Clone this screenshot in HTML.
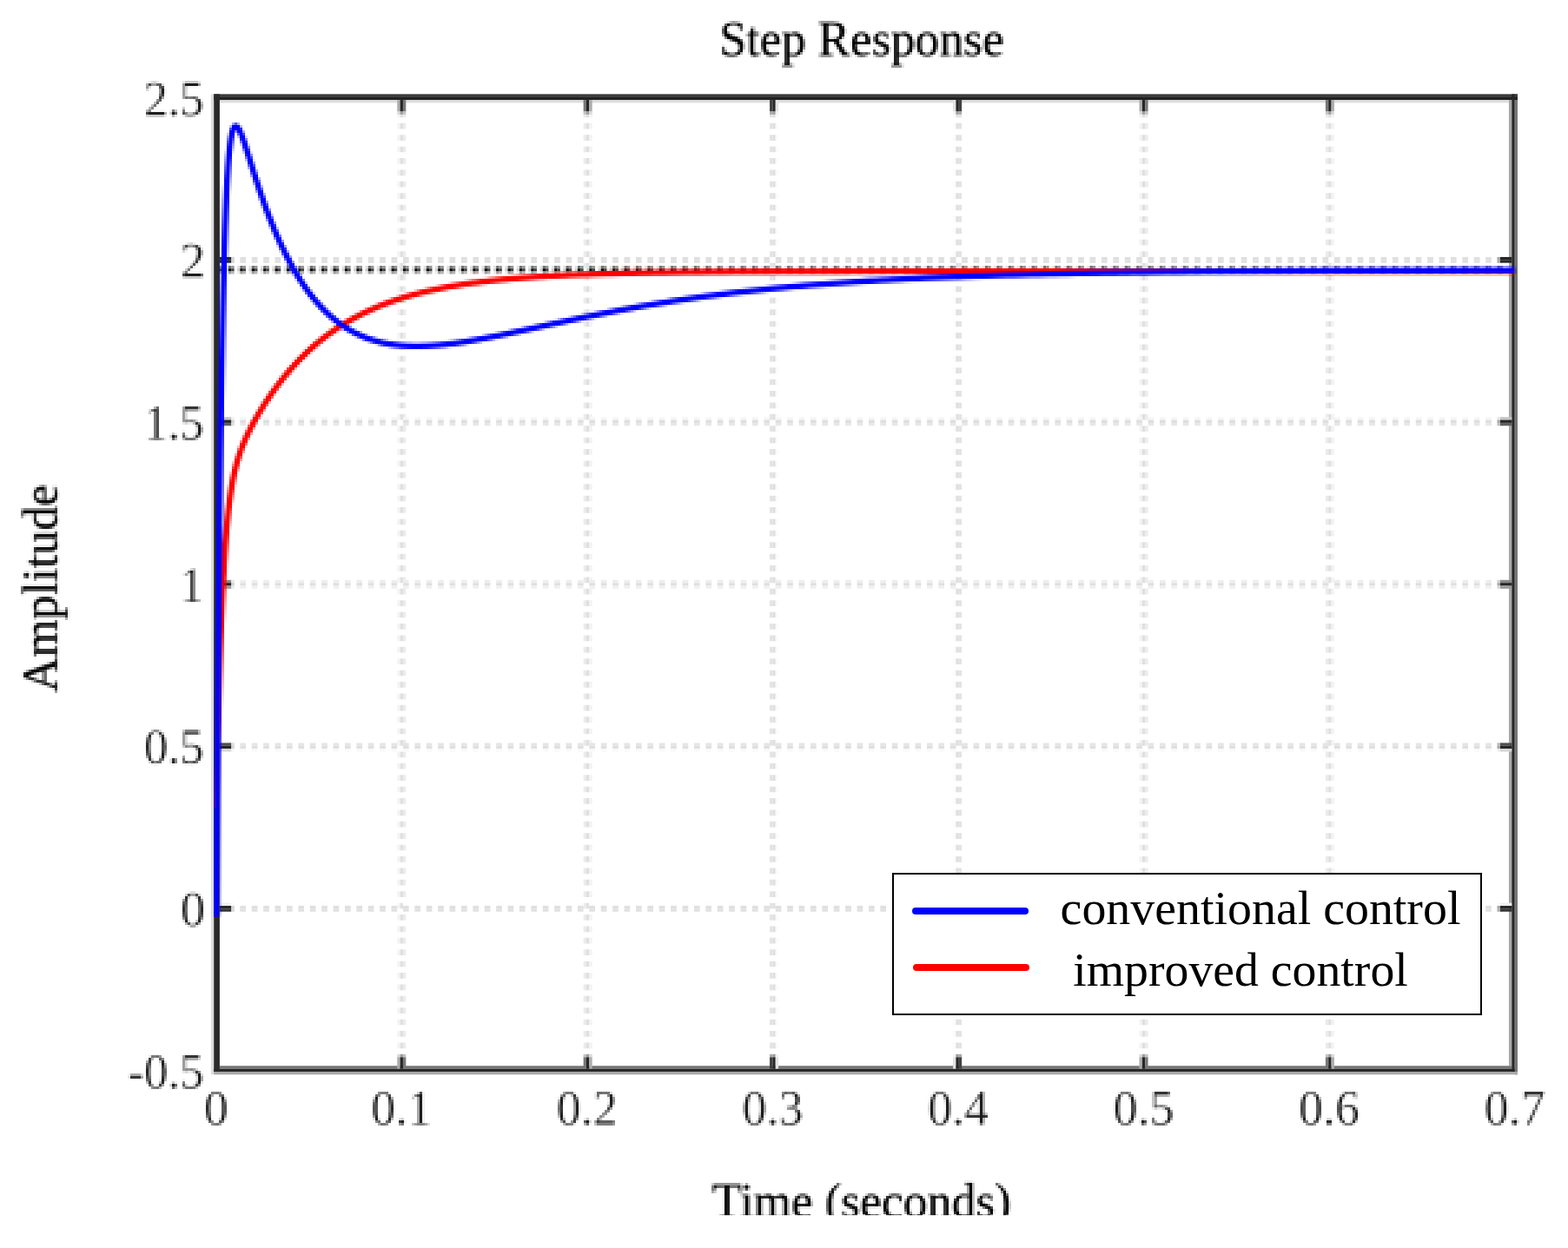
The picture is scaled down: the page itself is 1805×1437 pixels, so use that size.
<!DOCTYPE html>
<html lang="en"><head><meta charset="utf-8"><title>Step Response</title>
<style>html,body{margin:0;padding:0;background:#ffffff;}body{width:1805px;height:1437px;overflow:hidden;}svg{display:block;}text{font-family:"Liberation Serif",serif;}</style>
</head><body>
<svg width="1805" height="1437" viewBox="0 0 1805 1437">
<defs><filter id="soft" filterUnits="userSpaceOnUse" x="0" y="0" width="1805" height="1437" color-interpolation-filters="sRGB"><feGaussianBlur in="SourceGraphic" stdDeviation="0.4" result="b0"/><feConvolveMatrix in="b0" order="3" kernelMatrix="1 1 1 1 1 1 1 1 1" divisor="9" edgeMode="none" preserveAlpha="false" result="b"/><feFlood x="1" y="1" width="1" height="1" flood-color="#000" flood-opacity="1"/><feComposite width="3" height="3"/><feTile result="dots"/><feComposite in="b" in2="dots" operator="in"/><feMorphology operator="dilate" radius="1"/><feGaussianBlur stdDeviation="0.5"/></filter>
<filter id="crisp" filterUnits="userSpaceOnUse" x="0" y="0" width="1805" height="1437"><feGaussianBlur stdDeviation="0.45"/></filter>
<clipPath id="plot"><rect x="246.2" y="100" width="1497.7" height="1140"/></clipPath></defs>
<rect width="1805" height="1437" fill="#ffffff"/>
<g filter="url(#crisp)" fill="none">
<line x1="458.93" y1="115.05" x2="458.93" y2="1227.25" stroke="#f3f3f3" stroke-width="3.35" stroke-dasharray="6.70 6.70"/>
<line x1="462.28" y1="115.05" x2="462.28" y2="1227.25" stroke="#dfdfdf" stroke-width="3.35" stroke-dasharray="6.70 6.70"/>
<line x1="465.62" y1="115.05" x2="465.62" y2="1227.25" stroke="#ebebeb" stroke-width="3.35" stroke-dasharray="6.70 6.70"/>
<line x1="673.32" y1="115.05" x2="673.32" y2="1227.25" stroke="#ebebeb" stroke-width="3.35" stroke-dasharray="6.70 6.70"/>
<line x1="676.67" y1="115.05" x2="676.67" y2="1227.25" stroke="#dfdfdf" stroke-width="3.35" stroke-dasharray="6.70 6.70"/>
<line x1="680.02" y1="115.05" x2="680.02" y2="1227.25" stroke="#f3f3f3" stroke-width="3.35" stroke-dasharray="6.70 6.70"/>
<line x1="887.72" y1="115.05" x2="887.72" y2="1227.25" stroke="#e3e3e3" stroke-width="3.35" stroke-dasharray="6.70 6.70"/>
<line x1="891.08" y1="115.05" x2="891.08" y2="1227.25" stroke="#dfdfdf" stroke-width="3.35" stroke-dasharray="6.70 6.70"/>
<line x1="894.42" y1="115.05" x2="894.42" y2="1227.25" stroke="#fbfbfb" stroke-width="3.35" stroke-dasharray="6.70 6.70"/>
<line x1="1098.77" y1="115.05" x2="1098.77" y2="1227.25" stroke="#fbfbfb" stroke-width="3.35" stroke-dasharray="6.70 6.70"/>
<line x1="1102.12" y1="115.05" x2="1102.12" y2="1227.25" stroke="#dfdfdf" stroke-width="3.35" stroke-dasharray="6.70 6.70"/>
<line x1="1105.47" y1="115.05" x2="1105.47" y2="1227.25" stroke="#e3e3e3" stroke-width="3.35" stroke-dasharray="6.70 6.70"/>
<line x1="1313.17" y1="115.05" x2="1313.17" y2="1227.25" stroke="#f3f3f3" stroke-width="3.35" stroke-dasharray="6.70 6.70"/>
<line x1="1316.53" y1="115.05" x2="1316.53" y2="1227.25" stroke="#dfdfdf" stroke-width="3.35" stroke-dasharray="6.70 6.70"/>
<line x1="1319.88" y1="115.05" x2="1319.88" y2="1227.25" stroke="#ebebeb" stroke-width="3.35" stroke-dasharray="6.70 6.70"/>
<line x1="1527.58" y1="115.05" x2="1527.58" y2="1227.25" stroke="#ebebeb" stroke-width="3.35" stroke-dasharray="6.70 6.70"/>
<line x1="1530.92" y1="115.05" x2="1530.92" y2="1227.25" stroke="#dfdfdf" stroke-width="3.35" stroke-dasharray="6.70 6.70"/>
<line x1="1534.28" y1="115.05" x2="1534.28" y2="1227.25" stroke="#f3f3f3" stroke-width="3.35" stroke-dasharray="6.70 6.70"/>
<line x1="249.55" y1="297.62" x2="1740.30" y2="297.62" stroke="#dfdfdf" stroke-width="3.35" stroke-dasharray="6.70 6.70"/>
<line x1="249.55" y1="300.98" x2="1740.30" y2="300.98" stroke="#dfdfdf" stroke-width="3.35" stroke-dasharray="6.70 6.70"/>
<line x1="249.55" y1="481.88" x2="1740.30" y2="481.88" stroke="#f6f6f6" stroke-width="3.35" stroke-dasharray="6.70 6.70"/>
<line x1="249.55" y1="485.23" x2="1740.30" y2="485.23" stroke="#dfdfdf" stroke-width="3.35" stroke-dasharray="6.70 6.70"/>
<line x1="249.55" y1="488.57" x2="1740.30" y2="488.57" stroke="#e8e8e8" stroke-width="3.35" stroke-dasharray="6.70 6.70"/>
<line x1="249.55" y1="669.48" x2="1740.30" y2="669.48" stroke="#eeeeee" stroke-width="3.35" stroke-dasharray="6.70 6.70"/>
<line x1="249.55" y1="672.83" x2="1740.30" y2="672.83" stroke="#dfdfdf" stroke-width="3.35" stroke-dasharray="6.70 6.70"/>
<line x1="249.55" y1="676.18" x2="1740.30" y2="676.18" stroke="#f0f0f0" stroke-width="3.35" stroke-dasharray="6.70 6.70"/>
<line x1="249.55" y1="857.08" x2="1740.30" y2="857.08" stroke="#e5e5e5" stroke-width="3.35" stroke-dasharray="6.70 6.70"/>
<line x1="249.55" y1="860.43" x2="1740.30" y2="860.43" stroke="#dfdfdf" stroke-width="3.35" stroke-dasharray="6.70 6.70"/>
<line x1="249.55" y1="863.77" x2="1740.30" y2="863.77" stroke="#f9f9f9" stroke-width="3.35" stroke-dasharray="6.70 6.70"/>
<line x1="249.55" y1="1041.33" x2="1740.30" y2="1041.33" stroke="#fdfdfd" stroke-width="3.35" stroke-dasharray="6.70 6.70"/>
<line x1="249.55" y1="1044.67" x2="1740.30" y2="1044.67" stroke="#dfdfdf" stroke-width="3.35" stroke-dasharray="6.70 6.70"/>
<line x1="249.55" y1="1048.02" x2="1740.30" y2="1048.02" stroke="#e1e1e1" stroke-width="3.35" stroke-dasharray="6.70 6.70"/>
<line x1="246.20" y1="307.6" x2="1740.30" y2="307.6" stroke="#e3e3e3" stroke-width="3.2" stroke-dasharray="3.35 10.05"/>
<line x1="249.55" y1="307.6" x2="1740.30" y2="307.6" stroke="#737373" stroke-width="3.2" stroke-dasharray="3.35 10.05"/>
<line x1="252.90" y1="307.6" x2="1740.30" y2="307.6" stroke="#969696" stroke-width="3.2" stroke-dasharray="3.35 10.05"/>
<line x1="246.20" y1="310.8" x2="1740.30" y2="310.8" stroke="#cccccc" stroke-width="3.2" stroke-dasharray="3.35 10.05"/>
<line x1="249.55" y1="310.8" x2="1740.30" y2="310.8" stroke="#000000" stroke-width="3.2" stroke-dasharray="3.35 10.05"/>
<line x1="252.90" y1="310.8" x2="1740.30" y2="310.8" stroke="#404040" stroke-width="3.2" stroke-dasharray="3.35 10.05"/>
<line x1="246.20" y1="313.9" x2="1740.30" y2="313.9" stroke="#ececec" stroke-width="3.0" stroke-dasharray="3.35 10.05"/>
<line x1="249.55" y1="313.9" x2="1740.30" y2="313.9" stroke="#9e9e9e" stroke-width="3.0" stroke-dasharray="3.35 10.05"/>
<line x1="252.90" y1="313.9" x2="1740.30" y2="313.9" stroke="#b6b6b6" stroke-width="3.0" stroke-dasharray="3.35 10.05"/>
</g>
<g filter="url(#crisp)">
<rect x="242.85" y="108.35" width="3.35" height="1128.95" fill="#dcdcdc"/>
<rect x="252.90" y="115.05" width="1484.05" height="3.35" fill="#dedede"/>
<rect x="1736.95" y="115.05" width="3.35" height="1112.20" fill="#a8a8a8"/>
<rect x="1743.65" y="108.35" width="3.35" height="1128.95" fill="#767676"/>
<rect x="252.90" y="1227.25" width="1487.40" height="3.35" fill="#767676"/>
<rect x="246.20" y="1233.95" width="1500.80" height="3.35" fill="#a8a8a8"/>
<rect x="246.20" y="108.35" width="1500.80" height="3.5500000000000003" fill="#3a3a3a"/>
<rect x="246.20" y="111.70" width="1500.80" height="3.35" fill="#232323"/>
<rect x="246.20" y="1230.60" width="1497.45" height="3.35" fill="#262626"/>
<rect x="1740.30" y="108.35" width="3.35" height="1125.60" fill="#262626"/>
<rect x="246.20" y="108.35" width="6.70" height="1125.60" fill="#2b2b2b"/>
<rect x="457.25" y="115.05" width="3.35" height="13.40" fill="#adadad"/>
<rect x="457.25" y="128.45" width="3.35" height="3.35" fill="#dadada"/>
<rect x="457.25" y="1217.20" width="3.35" height="13.40" fill="#adadad"/>
<rect x="457.25" y="1213.85" width="3.35" height="3.35" fill="#dadada"/>
<rect x="460.60" y="115.05" width="3.35" height="13.40" fill="#262626"/>
<rect x="460.60" y="128.45" width="3.35" height="3.35" fill="#9d9d9d"/>
<rect x="460.60" y="1217.20" width="3.35" height="13.40" fill="#262626"/>
<rect x="460.60" y="1213.85" width="3.35" height="3.35" fill="#9d9d9d"/>
<rect x="463.95" y="115.05" width="3.35" height="13.40" fill="#787878"/>
<rect x="463.95" y="128.45" width="3.35" height="3.35" fill="#c2c2c2"/>
<rect x="463.95" y="1217.20" width="3.35" height="13.40" fill="#787878"/>
<rect x="463.95" y="1213.85" width="3.35" height="3.35" fill="#c2c2c2"/>
<rect x="671.65" y="115.05" width="3.35" height="13.40" fill="#777777"/>
<rect x="671.65" y="128.45" width="3.35" height="3.35" fill="#c2c2c2"/>
<rect x="671.65" y="1217.20" width="3.35" height="13.40" fill="#777777"/>
<rect x="671.65" y="1213.85" width="3.35" height="3.35" fill="#c2c2c2"/>
<rect x="675.00" y="115.05" width="3.35" height="13.40" fill="#262626"/>
<rect x="675.00" y="128.45" width="3.35" height="3.35" fill="#9d9d9d"/>
<rect x="675.00" y="1217.20" width="3.35" height="13.40" fill="#262626"/>
<rect x="675.00" y="1213.85" width="3.35" height="3.35" fill="#9d9d9d"/>
<rect x="678.35" y="115.05" width="3.35" height="13.40" fill="#aeaeae"/>
<rect x="678.35" y="128.45" width="3.35" height="3.35" fill="#dbdbdb"/>
<rect x="678.35" y="1217.20" width="3.35" height="13.40" fill="#aeaeae"/>
<rect x="678.35" y="1213.85" width="3.35" height="3.35" fill="#dbdbdb"/>
<rect x="886.05" y="115.05" width="3.35" height="13.40" fill="#414141"/>
<rect x="886.05" y="128.45" width="3.35" height="3.35" fill="#a9a9a9"/>
<rect x="886.05" y="1217.20" width="3.35" height="13.40" fill="#414141"/>
<rect x="886.05" y="1213.85" width="3.35" height="3.35" fill="#a9a9a9"/>
<rect x="889.40" y="115.05" width="3.35" height="13.40" fill="#262626"/>
<rect x="889.40" y="128.45" width="3.35" height="3.35" fill="#9d9d9d"/>
<rect x="889.40" y="1217.20" width="3.35" height="13.40" fill="#262626"/>
<rect x="889.40" y="1213.85" width="3.35" height="3.35" fill="#9d9d9d"/>
<rect x="892.75" y="115.05" width="3.35" height="13.40" fill="#e4e4e4"/>
<rect x="892.75" y="128.45" width="3.35" height="3.35" fill="#f3f3f3"/>
<rect x="892.75" y="1217.20" width="3.35" height="13.40" fill="#e4e4e4"/>
<rect x="892.75" y="1213.85" width="3.35" height="3.35" fill="#f3f3f3"/>
<rect x="1097.10" y="115.05" width="3.35" height="13.40" fill="#e3e3e3"/>
<rect x="1097.10" y="128.45" width="3.35" height="3.35" fill="#f3f3f3"/>
<rect x="1097.10" y="1217.20" width="3.35" height="13.40" fill="#e3e3e3"/>
<rect x="1097.10" y="1213.85" width="3.35" height="3.35" fill="#f3f3f3"/>
<rect x="1100.45" y="115.05" width="3.35" height="13.40" fill="#262626"/>
<rect x="1100.45" y="128.45" width="3.35" height="3.35" fill="#9d9d9d"/>
<rect x="1100.45" y="1217.20" width="3.35" height="13.40" fill="#262626"/>
<rect x="1100.45" y="1213.85" width="3.35" height="3.35" fill="#9d9d9d"/>
<rect x="1103.80" y="115.05" width="3.35" height="13.40" fill="#424242"/>
<rect x="1103.80" y="128.45" width="3.35" height="3.35" fill="#aaaaaa"/>
<rect x="1103.80" y="1217.20" width="3.35" height="13.40" fill="#424242"/>
<rect x="1103.80" y="1213.85" width="3.35" height="3.35" fill="#aaaaaa"/>
<rect x="1311.50" y="115.05" width="3.35" height="13.40" fill="#adadad"/>
<rect x="1311.50" y="128.45" width="3.35" height="3.35" fill="#dadada"/>
<rect x="1311.50" y="1217.20" width="3.35" height="13.40" fill="#adadad"/>
<rect x="1311.50" y="1213.85" width="3.35" height="3.35" fill="#dadada"/>
<rect x="1314.85" y="115.05" width="3.35" height="13.40" fill="#262626"/>
<rect x="1314.85" y="128.45" width="3.35" height="3.35" fill="#9d9d9d"/>
<rect x="1314.85" y="1217.20" width="3.35" height="13.40" fill="#262626"/>
<rect x="1314.85" y="1213.85" width="3.35" height="3.35" fill="#9d9d9d"/>
<rect x="1318.20" y="115.05" width="3.35" height="13.40" fill="#787878"/>
<rect x="1318.20" y="128.45" width="3.35" height="3.35" fill="#c2c2c2"/>
<rect x="1318.20" y="1217.20" width="3.35" height="13.40" fill="#787878"/>
<rect x="1318.20" y="1213.85" width="3.35" height="3.35" fill="#c2c2c2"/>
<rect x="1525.90" y="115.05" width="3.35" height="13.40" fill="#777777"/>
<rect x="1525.90" y="128.45" width="3.35" height="3.35" fill="#c2c2c2"/>
<rect x="1525.90" y="1217.20" width="3.35" height="13.40" fill="#777777"/>
<rect x="1525.90" y="1213.85" width="3.35" height="3.35" fill="#c2c2c2"/>
<rect x="1529.25" y="115.05" width="3.35" height="13.40" fill="#262626"/>
<rect x="1529.25" y="128.45" width="3.35" height="3.35" fill="#9d9d9d"/>
<rect x="1529.25" y="1217.20" width="3.35" height="13.40" fill="#262626"/>
<rect x="1529.25" y="1213.85" width="3.35" height="3.35" fill="#9d9d9d"/>
<rect x="1532.60" y="115.05" width="3.35" height="13.40" fill="#aeaeae"/>
<rect x="1532.60" y="128.45" width="3.35" height="3.35" fill="#dadada"/>
<rect x="1532.60" y="1217.20" width="3.35" height="13.40" fill="#aeaeae"/>
<rect x="1532.60" y="1213.85" width="3.35" height="3.35" fill="#dadada"/>
<rect x="252.90" y="295.95" width="13.40" height="3.35" fill="#262626"/>
<rect x="266.30" y="295.95" width="3.35" height="3.35" fill="#d4d4d4"/>
<rect x="1726.90" y="295.95" width="13.40" height="3.35" fill="#262626"/>
<rect x="1723.55" y="295.95" width="3.35" height="3.35" fill="#a8a8a8"/>
<rect x="252.90" y="299.30" width="13.40" height="3.35" fill="#262626"/>
<rect x="266.30" y="299.30" width="3.35" height="3.35" fill="#d4d4d4"/>
<rect x="1726.90" y="299.30" width="13.40" height="3.35" fill="#262626"/>
<rect x="1723.55" y="299.30" width="3.35" height="3.35" fill="#a8a8a8"/>
<rect x="252.90" y="480.20" width="13.40" height="3.35" fill="#c5c5c5"/>
<rect x="266.30" y="480.20" width="3.35" height="3.35" fill="#f3f3f3"/>
<rect x="1726.90" y="480.20" width="13.40" height="3.35" fill="#c5c5c5"/>
<rect x="1723.55" y="480.20" width="3.35" height="3.35" fill="#e8e8e8"/>
<rect x="252.90" y="483.55" width="13.40" height="3.35" fill="#262626"/>
<rect x="266.30" y="483.55" width="3.35" height="3.35" fill="#d4d4d4"/>
<rect x="1726.90" y="483.55" width="13.40" height="3.35" fill="#262626"/>
<rect x="1723.55" y="483.55" width="3.35" height="3.35" fill="#a8a8a8"/>
<rect x="252.90" y="486.90" width="13.40" height="3.35" fill="#606060"/>
<rect x="266.30" y="486.90" width="3.35" height="3.35" fill="#dfdfdf"/>
<rect x="1726.90" y="486.90" width="13.40" height="3.35" fill="#606060"/>
<rect x="1723.55" y="486.90" width="3.35" height="3.35" fill="#c0c0c0"/>
<rect x="252.90" y="667.80" width="13.40" height="3.35" fill="#8a8a8a"/>
<rect x="266.30" y="667.80" width="3.35" height="3.35" fill="#e8e8e8"/>
<rect x="1726.90" y="667.80" width="13.40" height="3.35" fill="#8a8a8a"/>
<rect x="1723.55" y="667.80" width="3.35" height="3.35" fill="#d0d0d0"/>
<rect x="252.90" y="671.15" width="13.40" height="3.35" fill="#262626"/>
<rect x="266.30" y="671.15" width="3.35" height="3.35" fill="#d4d4d4"/>
<rect x="1726.90" y="671.15" width="13.40" height="3.35" fill="#262626"/>
<rect x="1723.55" y="671.15" width="3.35" height="3.35" fill="#a8a8a8"/>
<rect x="252.90" y="674.50" width="13.40" height="3.35" fill="#9b9b9b"/>
<rect x="266.30" y="674.50" width="3.35" height="3.35" fill="#ebebeb"/>
<rect x="1726.90" y="674.50" width="13.40" height="3.35" fill="#9b9b9b"/>
<rect x="1723.55" y="674.50" width="3.35" height="3.35" fill="#d7d7d7"/>
<rect x="252.90" y="855.40" width="13.40" height="3.35" fill="#505050"/>
<rect x="266.30" y="855.40" width="3.35" height="3.35" fill="#dcdcdc"/>
<rect x="1726.90" y="855.40" width="13.40" height="3.35" fill="#505050"/>
<rect x="1723.55" y="855.40" width="3.35" height="3.35" fill="#b9b9b9"/>
<rect x="252.90" y="858.75" width="13.40" height="3.35" fill="#262626"/>
<rect x="266.30" y="858.75" width="3.35" height="3.35" fill="#d4d4d4"/>
<rect x="1726.90" y="858.75" width="13.40" height="3.35" fill="#262626"/>
<rect x="1723.55" y="858.75" width="3.35" height="3.35" fill="#a8a8a8"/>
<rect x="252.90" y="862.10" width="13.40" height="3.35" fill="#d5d5d5"/>
<rect x="266.30" y="862.10" width="3.35" height="3.35" fill="#f7f7f7"/>
<rect x="1726.90" y="862.10" width="13.40" height="3.35" fill="#d5d5d5"/>
<rect x="1723.55" y="862.10" width="3.35" height="3.35" fill="#eeeeee"/>
<rect x="252.90" y="1039.65" width="13.40" height="3.35" fill="#efefef"/>
<rect x="266.30" y="1039.65" width="3.35" height="3.35" fill="#fcfcfc"/>
<rect x="1726.90" y="1039.65" width="13.40" height="3.35" fill="#efefef"/>
<rect x="1723.55" y="1039.65" width="3.35" height="3.35" fill="#f9f9f9"/>
<rect x="252.90" y="1043.00" width="13.40" height="3.35" fill="#262626"/>
<rect x="266.30" y="1043.00" width="3.35" height="3.35" fill="#d4d4d4"/>
<rect x="1726.90" y="1043.00" width="13.40" height="3.35" fill="#262626"/>
<rect x="1723.55" y="1043.00" width="3.35" height="3.35" fill="#a8a8a8"/>
<rect x="252.90" y="1046.35" width="13.40" height="3.35" fill="#363636"/>
<rect x="266.30" y="1046.35" width="3.35" height="3.35" fill="#d7d7d7"/>
<rect x="1726.90" y="1046.35" width="13.40" height="3.35" fill="#363636"/>
<rect x="1723.55" y="1046.35" width="3.35" height="3.35" fill="#afafaf"/>
</g>
<g filter="url(#soft)">
<g clip-path="url(#plot)" fill="none" stroke-linejoin="round" stroke-linecap="butt">
<path d="M249.30,930.91 L249.45,922.42 L249.60,914.12 L249.75,906.00 L249.90,898.05 L250.05,890.28 L250.20,882.68 L250.35,875.25 L250.50,867.98 L250.65,860.87 L250.80,853.91 L250.95,847.11 L251.10,840.45 L251.25,833.94 L251.41,827.57 L251.56,821.34 L251.71,815.24 L251.86,809.27 L252.01,803.44 L252.16,797.73 L252.31,792.14 L252.46,786.67 L252.61,781.32 L252.76,776.08 L252.91,770.96 L253.06,765.94 L253.21,761.04 L253.36,756.23 L253.51,751.53 L253.66,746.93 L253.81,742.43 L253.96,738.02 L254.11,733.71 L254.26,729.48 L254.41,725.35 L254.56,721.30 L254.71,717.34 L254.86,713.45 L255.01,709.66 L255.16,705.94 L255.32,702.29 L255.47,698.73 L255.62,695.23 L255.77,691.81 L255.92,688.46 L256.07,685.18 L256.22,681.97 L256.37,678.82 L256.52,675.73 L256.67,672.71 L256.82,669.75 L256.97,666.85 L257.12,664.01 L257.27,661.23 L257.42,658.50 L257.57,655.83 L257.72,653.21 L257.87,650.64 L258.02,648.12 L258.17,645.66 L258.32,643.24 L258.47,640.87 L258.62,638.55 L258.77,636.27 L258.92,634.04 L259.07,631.85 L259.22,629.70 L259.38,627.59 L259.53,625.53 L259.68,623.50 L259.83,621.52 L259.98,619.57 L260.13,617.66 L260.28,615.78 L260.43,613.94 L260.58,612.13 L260.73,610.36 L260.88,608.62 L261.03,606.92 L261.18,605.24 L261.33,603.60 L261.48,601.98 L261.63,600.40 L261.78,598.84 L261.93,597.31 L262.08,595.81 L262.23,594.34 L262.38,592.89 L262.53,591.47 L262.68,590.07 L262.83,588.70 L262.98,587.35 L263.13,586.03 L263.28,584.72 L263.44,583.44 L263.59,582.19 L263.74,580.95 L263.89,579.73 L264.04,578.54 L264.19,577.36 L264.34,576.21 L264.49,575.07 L264.64,573.95 L264.79,572.85 L264.94,571.77 L265.09,570.71 L265.24,569.66 L265.39,568.63 L265.54,567.62 L265.69,566.62 L265.84,565.64 L265.99,564.67 L266.14,563.71 L266.29,562.78 L266.44,561.85 L266.59,560.94 L266.74,560.05 L266.89,559.16 L267.04,558.29 L267.19,557.44 L267.35,556.59 L267.50,555.76 L267.65,554.94 L267.80,554.13 L267.95,553.33 L268.10,552.54 L268.25,551.77 L268.40,551.00 L268.55,550.25 L268.70,549.50 L268.85,548.77 L269.00,548.04 L269.15,547.33 L269.30,546.62 L269.45,545.92 L269.60,545.24 L269.75,544.56 L269.90,543.89 L270.05,543.22 L270.20,542.57 L270.35,541.92 L270.50,541.28 L270.65,540.65 L270.80,540.03 L270.95,539.41 L271.10,538.80 L271.25,538.20 L271.41,537.61 L271.56,537.02 L271.71,536.44 L271.86,535.86 L272.01,535.29 L272.16,534.73 L272.31,534.17 L272.46,533.62 L272.61,533.07 L272.76,532.53 L272.91,532.00 L273.06,531.47 L273.21,530.95 L273.36,530.43 L273.51,529.92 L273.66,529.41 L273.81,528.91 L273.96,528.41 L274.11,527.91 L274.26,527.42 L274.41,526.94 L274.56,526.46 L274.71,525.98 L274.86,525.51 L275.01,525.04 L275.16,524.58 L275.32,524.12 L275.47,523.66 L275.62,523.21 L275.77,522.76 L275.92,522.31 L276.07,521.87 L276.22,521.44 L276.37,521.00 L276.52,520.57 L276.67,520.14 L276.82,519.72 L276.97,519.30 L277.12,518.88 L277.27,518.46 L277.42,518.05 L277.57,517.64 L277.72,517.23 L277.87,516.83 L278.02,516.43 L278.17,516.03 L278.32,515.63 L278.47,515.24 L278.62,514.85 L278.77,514.46 L278.92,514.08 L279.07,513.69 L279.22,513.31 L279.38,512.93 L279.53,512.56 L279.68,512.18 L279.83,511.81 L279.98,511.44 L280.13,511.07 L280.28,510.71 L280.43,510.34 L280.58,509.98 L280.73,509.62 L280.88,509.26 L281.03,508.91 L281.18,508.55 L281.33,508.20 L281.48,507.85 L281.63,507.50 L281.78,507.15 L281.93,506.81 L282.08,506.46 L282.23,506.12 L282.38,505.78 L282.53,505.44 L282.68,505.11 L282.83,504.77 L282.98,504.44 L283.13,504.10 L283.28,503.77 L283.44,503.44 L283.59,503.11 L283.74,502.79 L283.89,502.46 L284.04,502.14 L284.19,501.81 L284.34,501.49 L284.49,501.17 L284.64,500.85 L284.79,500.53 L284.94,500.21 L285.09,499.90 L285.24,499.58 L285.39,499.27 L285.54,498.96 L285.69,498.65 L285.84,498.34 L285.99,498.03 L286.14,497.72 L286.29,497.41 L286.44,497.11 L286.59,496.80 L286.74,496.50 L286.89,496.20 L287.04,495.90 L287.19,495.59 L287.35,495.29 L287.50,495.00 L287.65,494.70 L287.80,494.40 L287.95,494.10 L288.10,493.81 L288.25,493.52 L288.40,493.22 L288.55,492.93 L288.70,492.64 L288.85,492.35 L289.00,492.06 L289.15,491.77 L289.30,491.48 L289.45,491.19 L289.60,490.90 L289.75,490.62 L289.90,490.33 L290.05,490.05 L290.20,489.76 L290.35,489.48 L290.50,489.20 L290.65,488.92 L290.80,488.64 L290.95,488.36 L291.10,488.08 L291.25,487.80 L291.41,487.52 L291.56,487.24 L291.71,486.97 L291.86,486.69 L292.01,486.42 L292.16,486.14 L292.31,485.87 L292.46,485.59 L292.61,485.32 L292.76,485.05 L292.91,484.78 L293.06,484.51 L293.21,484.24 L293.36,483.97 L293.51,483.70 L293.66,483.43 L293.81,483.16 L293.96,482.89 L294.11,482.63 L294.26,482.36 L294.41,482.10 L294.56,481.83 L294.71,481.57 L294.86,481.30 L295.01,481.04 L295.16,480.78 L295.32,480.51 L295.47,480.25 L295.62,479.99 L295.77,479.73 L295.92,479.47 L296.07,479.21 L296.22,478.95 L296.37,478.69 L296.52,478.44 L296.67,478.18 L296.82,477.92 L296.97,477.67 L297.12,477.41 L297.27,477.15 L297.42,476.90 L297.57,476.65 L297.72,476.39 L297.87,476.14 L298.02,475.88 L298.17,475.63 L298.32,475.38 L298.47,475.13 L298.62,474.88 L298.77,474.63 L298.92,474.38 L299.07,474.13 L299.22,473.88 L299.38,473.63 L299.53,473.38 L299.68,473.13 L299.83,472.89 L299.98,472.64 L300.13,472.39 L300.28,472.15 L300.43,471.90 L300.58,471.65 L300.73,471.41 L300.88,471.17 L301.03,470.92 L301.18,470.68 L301.33,470.44 L301.48,470.19 L301.63,469.95 L301.78,469.71 L301.93,469.47 L302.08,469.23 L302.23,468.99 L302.38,468.75 L302.53,468.51 L302.68,468.27 L302.83,468.03 L302.98,467.79 L303.13,467.55 L303.28,467.31 L303.44,467.08 L303.59,466.84 L303.74,466.60 L303.89,466.37 L304.04,466.13 L304.19,465.90 L304.34,465.66 L304.49,465.43 L304.64,465.19 L304.79,464.96 L304.94,464.73 L305.09,464.49 L305.24,464.26 L305.39,464.03 L305.54,463.80 L305.69,463.56 L305.84,463.33 L305.99,463.10 L306.14,462.87 L306.29,462.64 L306.44,462.41 L306.59,462.18 L306.74,461.96 L306.89,461.73 L307.04,461.50 L307.19,461.27 L307.35,461.04 L307.50,460.82 L307.65,460.59 L307.80,460.36 L307.95,460.14 L308.10,459.91 L308.25,459.69 L308.40,459.46 L308.55,459.24 L308.70,459.01 L308.85,458.79 L309.00,458.57 L309.15,458.35 L309.30,458.12 L311.01,455.62 L312.72,453.16 L314.43,450.74 L316.13,448.37 L317.84,446.04 L319.55,443.74 L321.26,441.49 L322.97,439.28 L324.68,437.10 L326.39,434.96 L328.09,432.86 L329.80,430.80 L331.51,428.77 L333.22,426.77 L334.93,424.81 L336.64,422.89 L338.35,420.99 L340.05,419.13 L341.76,417.30 L343.47,415.50 L345.18,413.73 L346.89,412.00 L348.60,410.29 L350.31,408.61 L352.01,406.96 L353.72,405.34 L355.43,403.75 L357.14,402.18 L358.85,400.64 L360.56,399.13 L362.26,397.64 L363.97,396.18 L365.68,394.74 L367.39,393.33 L369.10,391.94 L370.81,390.58 L372.52,389.24 L374.22,387.92 L375.93,386.63 L377.64,385.35 L379.35,384.10 L381.06,382.87 L382.77,381.66 L384.48,380.48 L386.18,379.31 L387.89,378.16 L389.60,377.03 L391.31,375.93 L393.02,374.84 L394.73,373.76 L396.44,372.71 L398.14,371.68 L399.85,370.66 L401.56,369.66 L403.27,368.68 L404.98,367.71 L406.69,366.76 L408.40,365.83 L410.10,364.91 L411.81,364.01 L413.52,363.13 L415.23,362.26 L416.94,361.40 L418.65,360.56 L420.36,359.73 L422.06,358.92 L423.77,358.12 L425.48,357.34 L427.19,356.57 L428.90,355.81 L430.61,355.06 L432.32,354.33 L434.02,353.61 L435.73,352.90 L437.44,352.21 L439.15,351.53 L440.86,350.85 L442.57,350.19 L444.27,349.54 L445.98,348.91 L447.69,348.28 L449.40,347.66 L451.11,347.06 L452.82,346.46 L454.53,345.88 L456.23,345.30 L457.94,344.74 L459.65,344.18 L461.36,343.64 L463.07,343.10 L464.78,342.57 L466.49,342.05 L468.19,341.54 L469.90,341.04 L471.61,340.55 L473.32,340.07 L475.03,339.59 L476.74,339.12 L478.45,338.66 L480.15,338.21 L481.86,337.77 L483.57,337.33 L485.28,336.90 L486.99,336.48 L488.70,336.07 L490.41,335.66 L492.11,335.26 L493.82,334.87 L495.53,334.48 L497.24,334.10 L498.95,333.73 L500.66,333.36 L502.37,333.00 L504.07,332.65 L505.78,332.30 L507.49,331.96 L509.20,331.62 L510.91,331.29 L512.62,330.96 L514.33,330.64 L516.03,330.33 L517.74,330.02 L519.45,329.72 L521.16,329.42 L522.87,329.13 L524.58,328.84 L526.28,328.55 L527.99,328.28 L529.70,328.00 L531.41,327.73 L533.12,327.47 L534.83,327.21 L536.54,326.95 L538.24,326.70 L539.95,326.46 L541.66,326.21 L543.37,325.98 L545.08,325.74 L546.79,325.51 L548.50,325.28 L550.20,325.06 L551.91,324.84 L553.62,324.63 L555.33,324.42 L557.04,324.21 L558.75,324.01 L560.46,323.81 L562.16,323.61 L563.87,323.42 L565.58,323.22 L567.29,323.04 L569.00,322.85 L570.71,322.67 L572.42,322.50 L574.12,322.32 L575.83,322.15 L577.54,321.98 L579.25,321.81 L580.96,321.65 L582.67,321.49 L584.38,321.33 L586.08,321.18 L587.79,321.03 L589.50,320.88 L591.21,320.73 L592.92,320.59 L594.63,320.44 L596.34,320.31 L598.04,320.17 L599.75,320.03 L601.46,319.90 L603.17,319.77 L604.88,319.64 L606.59,319.52 L608.29,319.39 L610.00,319.27 L611.71,319.15 L613.42,319.04 L615.13,318.92 L616.84,318.81 L618.55,318.70 L620.25,318.59 L621.96,318.48 L623.67,318.37 L625.38,318.27 L627.09,318.17 L628.80,318.07 L630.51,317.97 L632.21,317.87 L633.92,317.77 L635.63,317.68 L637.34,317.59 L639.05,317.50 L640.76,317.41 L642.47,317.32 L644.17,317.24 L645.88,317.15 L647.59,317.07 L649.30,316.99 L656.19,316.67 L663.09,316.38 L669.98,316.10 L676.87,315.85 L683.77,315.61 L690.66,315.38 L697.55,315.18 L704.44,314.98 L711.34,314.80 L718.23,314.63 L725.12,314.48 L732.02,314.33 L738.91,314.19 L745.80,314.07 L752.70,313.95 L759.59,313.84 L766.48,313.73 L773.38,313.64 L780.27,313.55 L787.16,313.46 L794.05,313.38 L800.95,313.31 L807.84,313.24 L814.73,313.18 L821.63,313.12 L828.52,313.07 L835.41,313.01 L842.31,312.97 L849.20,312.92 L856.09,312.88 L862.99,312.84 L869.88,312.80 L876.77,312.77 L883.66,312.74 L890.56,312.71 L897.45,312.68 L904.34,312.66 L911.24,312.63 L918.13,312.61 L925.02,312.59 L931.92,312.57 L938.81,312.55 L945.70,312.53 L952.60,312.52 L959.49,312.50 L966.38,312.49 L973.27,312.48 L980.17,312.47 L987.06,312.45 L993.95,312.44 L1000.85,312.43 L1007.74,312.43 L1014.63,312.42 L1021.53,312.41 L1028.42,312.40 L1035.31,312.39 L1042.21,312.39 L1049.10,312.38 L1055.99,312.38 L1062.88,312.37 L1069.78,312.37 L1076.67,312.36 L1083.56,312.36 L1090.46,312.35 L1097.35,312.35 L1104.24,312.35 L1111.14,312.34 L1118.03,312.34 L1124.92,312.34 L1131.82,312.34 L1138.71,312.33 L1145.60,312.33 L1152.49,312.33 L1159.39,312.33 L1166.28,312.33 L1173.17,312.32 L1180.07,312.32 L1186.96,312.32 L1193.85,312.32 L1200.75,312.32 L1207.64,312.32 L1214.53,312.32 L1221.43,312.31 L1228.32,312.31 L1235.21,312.31 L1242.11,312.31 L1249.00,312.31 L1255.89,312.31 L1262.78,312.31 L1269.68,312.31 L1276.57,312.31 L1283.46,312.31 L1290.36,312.31 L1297.25,312.31 L1304.14,312.31 L1311.04,312.31 L1317.93,312.31 L1324.82,312.31 L1331.72,312.30 L1338.61,312.30 L1345.50,312.30 L1352.39,312.30 L1359.29,312.30 L1366.18,312.30 L1373.07,312.30 L1379.97,312.30 L1386.86,312.30 L1393.75,312.30 L1400.65,312.30 L1407.54,312.30 L1414.43,312.30 L1421.33,312.30 L1428.22,312.30 L1435.11,312.30 L1442.00,312.30 L1448.90,312.30 L1455.79,312.30 L1462.68,312.30 L1469.58,312.30 L1476.47,312.30 L1483.36,312.30 L1490.26,312.30 L1497.15,312.30 L1504.04,312.30 L1510.94,312.30 L1517.83,312.30 L1524.72,312.30 L1531.61,312.30 L1538.51,312.30 L1545.40,312.30 L1552.29,312.30 L1559.19,312.30 L1566.08,312.30 L1572.97,312.30 L1579.87,312.30 L1586.76,312.30 L1593.65,312.30 L1600.55,312.30 L1607.44,312.30 L1614.33,312.30 L1621.22,312.30 L1628.12,312.30 L1635.01,312.30 L1641.90,312.30 L1648.80,312.30 L1655.69,312.30 L1662.58,312.30 L1669.48,312.30 L1676.37,312.30 L1683.26,312.30 L1690.16,312.30 L1697.05,312.30 L1703.94,312.30 L1710.83,312.30 L1717.73,312.30 L1724.62,312.30 L1731.51,312.30 L1738.41,312.30 L1745.30,312.30" stroke="#ff0000" stroke-width="6.8"/>
<path d="M249.3,1055 L249.30,1045.30 L249.45,1020.37 L249.60,996.07 L249.75,972.41 L249.90,949.35 L250.05,926.89 L250.20,905.00 L250.35,883.68 L250.50,862.92 L250.65,842.68 L250.80,822.98 L250.95,803.78 L251.10,785.08 L251.25,766.87 L251.41,749.12 L251.56,731.85 L251.71,715.02 L251.86,698.62 L252.01,682.66 L252.16,667.11 L252.31,651.97 L252.46,637.23 L252.61,622.87 L252.76,608.89 L252.91,595.28 L253.06,582.02 L253.21,569.12 L253.36,556.55 L253.51,544.32 L253.66,532.40 L253.81,520.81 L253.96,509.52 L254.11,498.53 L254.26,487.84 L254.41,477.43 L254.56,467.29 L254.71,457.43 L254.86,447.84 L255.01,438.50 L255.16,429.41 L255.32,420.56 L255.47,411.96 L255.62,403.58 L255.77,395.44 L255.92,387.51 L256.07,379.80 L256.22,372.30 L256.37,365.01 L256.52,357.91 L256.67,351.01 L256.82,344.30 L256.97,337.78 L257.12,331.43 L257.27,325.26 L257.42,319.27 L257.57,313.44 L257.72,307.77 L257.87,302.26 L258.02,296.91 L258.17,291.71 L258.32,286.65 L258.47,281.74 L258.62,276.97 L258.77,272.33 L258.92,267.83 L259.07,263.46 L259.22,259.21 L259.38,255.08 L259.53,251.08 L259.68,247.19 L259.83,243.42 L259.98,239.76 L260.13,236.21 L260.28,232.76 L260.43,229.42 L260.58,226.17 L260.73,223.03 L260.88,219.97 L261.03,217.02 L261.18,214.15 L261.33,211.37 L261.48,208.68 L261.63,206.07 L261.78,203.54 L261.93,201.09 L262.08,198.72 L262.23,196.43 L262.38,194.21 L262.53,192.06 L262.68,189.98 L262.83,187.97 L262.98,186.03 L263.13,184.15 L263.28,182.34 L263.44,180.58 L263.59,178.89 L263.74,177.26 L263.89,175.68 L264.04,174.16 L264.19,172.69 L264.34,171.27 L264.49,169.91 L264.64,168.60 L264.79,167.33 L264.94,166.11 L265.09,164.94 L265.24,163.82 L265.39,162.74 L265.54,161.70 L265.69,160.70 L265.84,159.75 L265.99,158.83 L266.14,157.95 L266.29,157.11 L266.44,156.31 L266.59,155.54 L266.74,154.81 L266.89,154.11 L267.04,153.45 L267.19,152.81 L267.35,152.21 L267.50,151.64 L267.65,151.10 L267.80,150.59 L267.95,150.10 L268.10,149.64 L268.25,149.21 L268.40,148.81 L268.55,148.43 L268.70,148.08 L268.85,147.75 L269.00,147.44 L269.15,147.16 L269.30,146.90 L269.45,146.66 L269.60,146.44 L269.75,146.25 L269.90,146.07 L270.05,145.91 L270.20,145.77 L270.35,145.65 L270.50,145.55 L270.65,145.47 L270.80,145.40 L270.95,145.35 L271.10,145.31 L271.25,145.29 L271.41,145.29 L271.56,145.30 L271.71,145.33 L271.86,145.37 L272.01,145.42 L272.16,145.49 L272.31,145.57 L272.46,145.66 L272.61,145.76 L272.76,145.88 L272.91,146.01 L273.06,146.15 L273.21,146.30 L273.36,146.46 L273.51,146.63 L273.66,146.81 L273.81,147.00 L273.96,147.20 L274.11,147.42 L274.26,147.64 L274.41,147.86 L274.56,148.10 L274.71,148.35 L274.86,148.60 L275.01,148.86 L275.16,149.13 L275.32,149.41 L275.47,149.69 L275.62,149.98 L275.77,150.28 L275.92,150.58 L276.07,150.89 L276.22,151.21 L276.37,151.53 L276.52,151.86 L276.67,152.19 L276.82,152.53 L276.97,152.88 L277.12,153.23 L277.27,153.58 L277.42,153.94 L277.57,154.30 L277.72,154.67 L277.87,155.05 L278.02,155.43 L278.17,155.81 L278.32,156.19 L278.47,156.58 L278.62,156.98 L278.77,157.38 L278.92,157.78 L279.07,158.18 L279.22,158.59 L279.38,159.00 L279.53,159.42 L279.68,159.83 L279.83,160.25 L279.98,160.68 L280.13,161.10 L280.28,161.53 L280.43,161.96 L280.58,162.39 L280.73,162.83 L280.88,163.27 L281.03,163.71 L281.18,164.15 L281.33,164.59 L281.48,165.04 L281.63,165.49 L281.78,165.94 L281.93,166.39 L282.08,166.84 L282.23,167.30 L282.38,167.76 L282.53,168.21 L282.68,168.67 L282.83,169.13 L282.98,169.60 L283.13,170.06 L283.28,170.52 L283.44,170.99 L283.59,171.46 L283.74,171.92 L283.89,172.39 L284.04,172.86 L284.19,173.33 L284.34,173.80 L284.49,174.28 L284.64,174.75 L284.79,175.22 L284.94,175.70 L285.09,176.17 L285.24,176.65 L285.39,177.12 L285.54,177.60 L285.69,178.07 L285.84,178.55 L285.99,179.03 L286.14,179.51 L286.29,179.99 L286.44,180.47 L286.59,180.94 L286.74,181.42 L286.89,181.90 L287.04,182.38 L287.19,182.86 L287.35,183.34 L287.50,183.82 L287.65,184.30 L287.80,184.78 L287.95,185.26 L288.10,185.74 L288.25,186.22 L288.40,186.70 L288.55,187.18 L288.70,187.66 L288.85,188.14 L289.00,188.62 L289.15,189.10 L289.30,189.58 L289.45,190.06 L289.60,190.54 L289.75,191.01 L289.90,191.49 L290.05,191.97 L290.20,192.45 L290.35,192.93 L290.50,193.40 L290.65,193.88 L290.80,194.36 L290.95,194.83 L291.10,195.31 L291.25,195.78 L291.41,196.26 L291.56,196.73 L291.71,197.21 L291.86,197.68 L292.01,198.15 L292.16,198.63 L292.31,199.10 L292.46,199.57 L292.61,200.04 L292.76,200.51 L292.91,200.98 L293.06,201.45 L293.21,201.92 L293.36,202.39 L293.51,202.86 L293.66,203.33 L293.81,203.79 L293.96,204.26 L294.11,204.73 L294.26,205.19 L294.41,205.66 L294.56,206.12 L294.71,206.58 L294.86,207.05 L295.01,207.51 L295.16,207.97 L295.32,208.43 L295.47,208.89 L295.62,209.35 L295.77,209.81 L295.92,210.27 L296.07,210.73 L296.22,211.18 L296.37,211.64 L296.52,212.09 L296.67,212.55 L296.82,213.00 L296.97,213.46 L297.12,213.91 L297.27,214.36 L297.42,214.81 L297.57,215.27 L297.72,215.72 L297.87,216.16 L298.02,216.61 L298.17,217.06 L298.32,217.51 L298.47,217.96 L298.62,218.40 L298.77,218.85 L298.92,219.29 L299.07,219.73 L299.22,220.18 L299.38,220.62 L299.53,221.06 L299.68,221.50 L299.83,221.94 L299.98,222.38 L300.13,222.82 L300.28,223.26 L300.43,223.69 L300.58,224.13 L300.73,224.56 L300.88,225.00 L301.03,225.43 L301.18,225.87 L301.33,226.30 L301.48,226.73 L301.63,227.16 L301.78,227.59 L301.93,228.02 L302.08,228.45 L302.23,228.88 L302.38,229.30 L302.53,229.73 L302.68,230.15 L302.83,230.58 L302.98,231.00 L303.13,231.43 L303.28,231.85 L303.44,232.27 L303.59,232.69 L303.74,233.11 L303.89,233.53 L304.04,233.95 L304.19,234.37 L304.34,234.78 L304.49,235.20 L304.64,235.61 L304.79,236.03 L304.94,236.44 L305.09,236.85 L305.24,237.27 L305.39,237.68 L305.54,238.09 L305.69,238.50 L305.84,238.91 L305.99,239.32 L306.14,239.72 L306.29,240.13 L306.44,240.54 L306.59,240.94 L306.74,241.35 L306.89,241.75 L307.04,242.15 L307.19,242.55 L307.35,242.95 L307.50,243.36 L307.65,243.75 L307.80,244.15 L307.95,244.55 L308.10,244.95 L308.25,245.35 L308.40,245.74 L308.55,246.14 L308.70,246.53 L308.85,246.92 L309.00,247.32 L309.15,247.71 L309.30,248.10 L311.01,252.49 L312.72,256.78 L314.43,260.98 L316.13,265.08 L317.84,269.08 L319.55,272.99 L321.26,276.82 L322.97,280.55 L324.68,284.19 L326.39,287.75 L328.09,291.22 L329.80,294.61 L331.51,297.91 L333.22,301.14 L334.93,304.29 L336.64,307.36 L338.35,310.35 L340.05,313.28 L341.76,316.12 L343.47,318.90 L345.18,321.61 L346.89,324.25 L348.60,326.82 L350.31,329.32 L352.01,331.76 L353.72,334.14 L355.43,336.45 L357.14,338.70 L358.85,340.90 L360.56,343.03 L362.26,345.11 L363.97,347.13 L365.68,349.09 L367.39,351.00 L369.10,352.86 L370.81,354.67 L372.52,356.42 L374.22,358.13 L375.93,359.79 L377.64,361.39 L379.35,362.96 L381.06,364.47 L382.77,365.94 L384.48,367.37 L386.18,368.75 L387.89,370.09 L389.60,371.39 L391.31,372.65 L393.02,373.86 L394.73,375.04 L396.44,376.18 L398.14,377.29 L399.85,378.35 L401.56,379.38 L403.27,380.38 L404.98,381.34 L406.69,382.27 L408.40,383.16 L410.10,384.02 L411.81,384.85 L413.52,385.65 L415.23,386.42 L416.94,387.16 L418.65,387.87 L420.36,388.55 L422.06,389.20 L423.77,389.83 L425.48,390.43 L427.19,391.00 L428.90,391.55 L430.61,392.07 L432.32,392.57 L434.02,393.05 L435.73,393.50 L437.44,393.93 L439.15,394.34 L440.86,394.72 L442.57,395.09 L444.27,395.43 L445.98,395.75 L447.69,396.05 L449.40,396.34 L451.11,396.60 L452.82,396.85 L454.53,397.07 L456.23,397.28 L457.94,397.47 L459.65,397.65 L461.36,397.81 L463.07,397.95 L464.78,398.08 L466.49,398.19 L468.19,398.29 L469.90,398.37 L471.61,398.44 L473.32,398.49 L475.03,398.53 L476.74,398.56 L478.45,398.57 L480.15,398.57 L481.86,398.56 L483.57,398.54 L485.28,398.50 L486.99,398.45 L488.70,398.40 L490.41,398.33 L492.11,398.25 L493.82,398.16 L495.53,398.06 L497.24,397.95 L498.95,397.83 L500.66,397.70 L502.37,397.57 L504.07,397.42 L505.78,397.27 L507.49,397.10 L509.20,396.93 L510.91,396.76 L512.62,396.57 L514.33,396.38 L516.03,396.18 L517.74,395.97 L519.45,395.75 L521.16,395.53 L522.87,395.31 L524.58,395.07 L526.28,394.83 L527.99,394.59 L529.70,394.34 L531.41,394.08 L533.12,393.82 L534.83,393.55 L536.54,393.28 L538.24,393.00 L539.95,392.72 L541.66,392.43 L543.37,392.14 L545.08,391.85 L546.79,391.55 L548.50,391.25 L550.20,390.94 L551.91,390.63 L553.62,390.32 L555.33,390.00 L557.04,389.68 L558.75,389.36 L560.46,389.03 L562.16,388.70 L563.87,388.37 L565.58,388.04 L567.29,387.70 L569.00,387.36 L570.71,387.02 L572.42,386.68 L574.12,386.33 L575.83,385.98 L577.54,385.63 L579.25,385.28 L580.96,384.93 L582.67,384.57 L584.38,384.22 L586.08,383.86 L587.79,383.50 L589.50,383.14 L591.21,382.78 L592.92,382.41 L594.63,382.05 L596.34,381.68 L598.04,381.32 L599.75,380.95 L601.46,380.58 L603.17,380.22 L604.88,379.85 L606.59,379.48 L608.29,379.11 L610.00,378.74 L611.71,378.37 L613.42,378.00 L615.13,377.63 L616.84,377.26 L618.55,376.89 L620.25,376.51 L621.96,376.14 L623.67,375.77 L625.38,375.40 L627.09,375.03 L628.80,374.66 L630.51,374.29 L632.21,373.92 L633.92,373.55 L635.63,373.18 L637.34,372.81 L639.05,372.44 L640.76,372.07 L642.47,371.71 L644.17,371.34 L645.88,370.97 L647.59,370.61 L649.30,370.24 L656.19,368.78 L663.09,367.33 L669.98,365.89 L676.87,364.48 L683.77,363.08 L690.66,361.70 L697.55,360.34 L704.44,359.00 L711.34,357.69 L718.23,356.40 L725.12,355.14 L732.02,353.90 L738.91,352.68 L745.80,351.49 L752.70,350.33 L759.59,349.19 L766.48,348.07 L773.38,346.98 L780.27,345.92 L787.16,344.88 L794.05,343.87 L800.95,342.88 L807.84,341.92 L814.73,340.98 L821.63,340.07 L828.52,339.18 L835.41,338.31 L842.31,337.47 L849.20,336.65 L856.09,335.85 L862.99,335.07 L869.88,334.32 L876.77,333.58 L883.66,332.87 L890.56,332.18 L897.45,331.50 L904.34,330.85 L911.24,330.22 L918.13,329.60 L925.02,329.00 L931.92,328.42 L938.81,327.86 L945.70,327.31 L952.60,326.78 L959.49,326.27 L966.38,325.77 L973.27,325.29 L980.17,324.82 L987.06,324.37 L993.95,323.93 L1000.85,323.50 L1007.74,323.09 L1014.63,322.69 L1021.53,322.30 L1028.42,321.92 L1035.31,321.56 L1042.21,321.21 L1049.10,320.86 L1055.99,320.53 L1062.88,320.21 L1069.78,319.90 L1076.67,319.60 L1083.56,319.31 L1090.46,319.03 L1097.35,318.76 L1104.24,318.50 L1111.14,318.24 L1118.03,318.00 L1124.92,317.76 L1131.82,317.53 L1138.71,317.30 L1145.60,317.09 L1152.49,316.88 L1159.39,316.67 L1166.28,316.48 L1173.17,316.29 L1180.07,316.11 L1186.96,315.93 L1193.85,315.76 L1200.75,315.59 L1207.64,315.43 L1214.53,315.28 L1221.43,315.13 L1228.32,314.98 L1235.21,314.84 L1242.11,314.71 L1249.00,314.58 L1255.89,314.45 L1262.78,314.33 L1269.68,314.21 L1276.57,314.09 L1283.46,313.98 L1290.36,313.88 L1297.25,313.77 L1304.14,313.67 L1311.04,313.58 L1317.93,313.48 L1324.82,313.39 L1331.72,313.30 L1338.61,313.22 L1345.50,313.14 L1352.39,313.06 L1359.29,312.98 L1366.18,312.91 L1373.07,312.84 L1379.97,312.77 L1386.86,312.70 L1393.75,312.64 L1400.65,312.58 L1407.54,312.52 L1414.43,312.46 L1421.33,312.40 L1428.22,312.35 L1435.11,312.30 L1442.00,312.25 L1448.90,312.20 L1455.79,312.15 L1462.68,312.10 L1469.58,312.06 L1476.47,312.02 L1483.36,311.98 L1490.26,311.94 L1497.15,311.90 L1504.04,311.86 L1510.94,311.82 L1517.83,311.79 L1524.72,311.76 L1531.61,311.72 L1538.51,311.69 L1545.40,311.66 L1552.29,311.63 L1559.19,311.61 L1566.08,311.58 L1572.97,311.55 L1579.87,311.53 L1586.76,311.50 L1593.65,311.48 L1600.55,311.45 L1607.44,311.43 L1614.33,311.41 L1621.22,311.39 L1628.12,311.37 L1635.01,311.35 L1641.90,311.33 L1648.80,311.31 L1655.69,311.30 L1662.58,311.28 L1669.48,311.26 L1676.37,311.25 L1683.26,311.23 L1690.16,311.22 L1697.05,311.20 L1703.94,311.19 L1710.83,311.18 L1717.73,311.16 L1724.62,311.15 L1731.51,311.14 L1738.41,311.13 L1745.30,311.12" stroke="#0000ff" stroke-width="6.8"/>
</g>
<text transform="translate(248.7,1294.6) scale(1.0,1)" text-anchor="middle" font-size="56" fill="#1c1c1c" stroke="#fff" stroke-width="0.4">0</text>
<text transform="translate(462.3,1294.6) scale(1.0,1)" text-anchor="middle" font-size="56" fill="#1c1c1c" stroke="#fff" stroke-width="0.4">0.1</text>
<text transform="translate(675.8,1294.6) scale(1.0,1)" text-anchor="middle" font-size="56" fill="#1c1c1c" stroke="#fff" stroke-width="0.4">0.2</text>
<text transform="translate(889.4,1294.6) scale(1.0,1)" text-anchor="middle" font-size="56" fill="#1c1c1c" stroke="#fff" stroke-width="0.4">0.3</text>
<text transform="translate(1103.0,1294.6) scale(1.0,1)" text-anchor="middle" font-size="56" fill="#1c1c1c" stroke="#fff" stroke-width="0.4">0.4</text>
<text transform="translate(1316.5,1294.6) scale(1.0,1)" text-anchor="middle" font-size="56" fill="#1c1c1c" stroke="#fff" stroke-width="0.4">0.5</text>
<text transform="translate(1530.1,1294.6) scale(1.0,1)" text-anchor="middle" font-size="56" fill="#1c1c1c" stroke="#fff" stroke-width="0.4">0.6</text>
<text transform="translate(1743.7,1294.6) scale(1.0,1)" text-anchor="middle" font-size="56" fill="#1c1c1c" stroke="#fff" stroke-width="0.4">0.7</text>
<text transform="translate(234.6,132.6) scale(0.985,1)" text-anchor="end" font-size="56" fill="#1c1c1c" stroke="#fff" stroke-width="0.4">2.5</text>
<text transform="translate(236.2,319.3) scale(1.02,1)" text-anchor="end" font-size="56" fill="#1c1c1c" stroke="#fff" stroke-width="0.4">2</text>
<text transform="translate(234.6,506.0) scale(0.985,1)" text-anchor="end" font-size="56" fill="#1c1c1c" stroke="#fff" stroke-width="0.4">1.5</text>
<text transform="translate(234.6,692.7) scale(0.985,1)" text-anchor="end" font-size="56" fill="#1c1c1c" stroke="#fff" stroke-width="0.4">1</text>
<text transform="translate(234.6,879.4) scale(0.985,1)" text-anchor="end" font-size="56" fill="#1c1c1c" stroke="#fff" stroke-width="0.4">0.5</text>
<text transform="translate(236.2,1066.1) scale(1.02,1)" text-anchor="end" font-size="56" fill="#1c1c1c" stroke="#fff" stroke-width="0.4">0</text>
<text transform="translate(234.6,1252.8) scale(0.985,1)" text-anchor="end" font-size="56" fill="#1c1c1c" stroke="#fff" stroke-width="0.4">-0.5</text>
<text transform="translate(992.0,64.0) scale(0.998,1)" text-anchor="middle" font-size="56" fill="#000" stroke="#000" stroke-width="0.4">Step Response</text>
<text transform="translate(991.8,1401.6) scale(0.998,1)" text-anchor="middle" font-size="56" fill="#000" stroke="#000" stroke-width="0.4">Time (seconds)</text>
<text transform="translate(65.5,677.5) rotate(-90) scale(0.998,1)" text-anchor="middle" font-size="56" fill="#000" stroke="#000" stroke-width="0.4">Amplitude</text>
</g>
<rect x="0" y="1399.2" width="1805" height="37.8" fill="#ffffff"/>
<g>
<rect x="1028" y="1006" width="677" height="162" fill="#fff" stroke="#000" stroke-width="2"/>
<line x1="1054" y1="1049" x2="1180" y2="1049" stroke="#0000ff" stroke-width="8" stroke-linecap="round"/>
<line x1="1055" y1="1114" x2="1181" y2="1114" stroke="#ff0000" stroke-width="8" stroke-linecap="round"/>
<text transform="translate(1220.6,1064) scale(1.016,1)" font-size="55" fill="#000">conventional control</text>
<text transform="translate(1235.2,1134.8) scale(1.014,1)" font-size="55" fill="#000">improved control</text>
</g>
</svg></body></html>
